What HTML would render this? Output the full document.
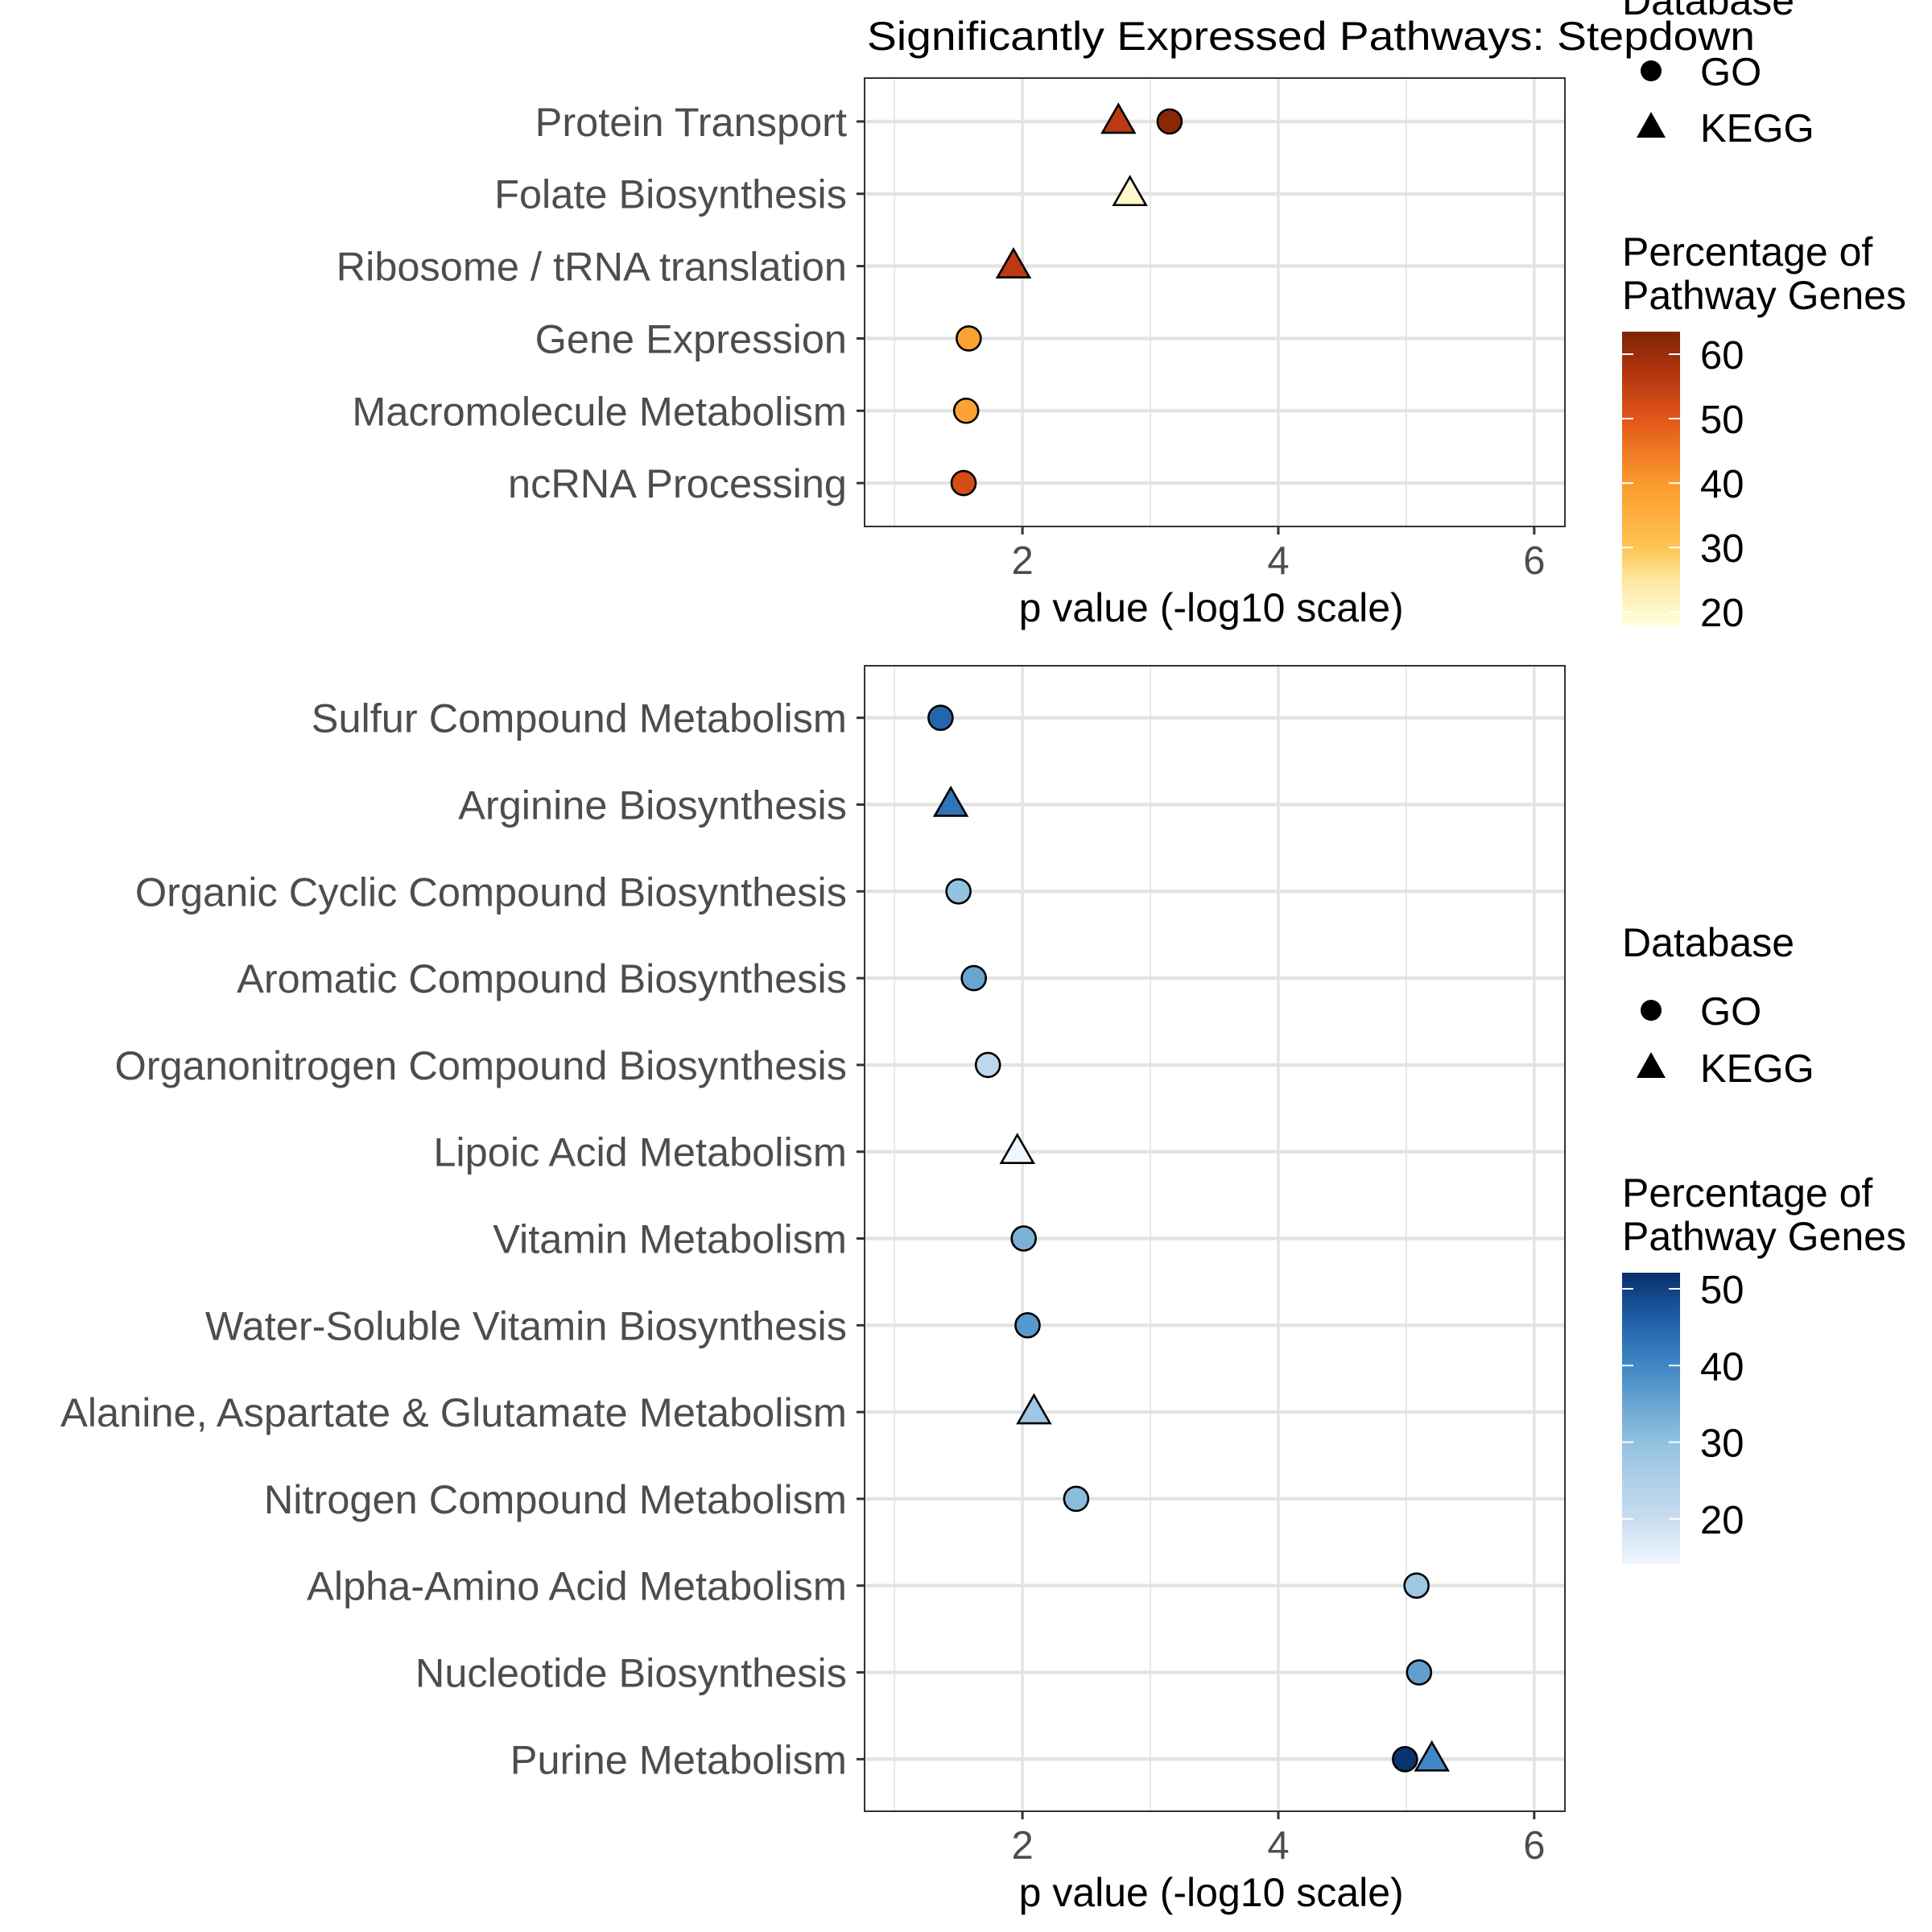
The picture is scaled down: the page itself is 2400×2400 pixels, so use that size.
<!DOCTYPE html>
<html><head><meta charset="utf-8"><style>
html,body{margin:0;padding:0;background:#fff;}
svg{display:block;font-family:"Liberation Sans",Arial,sans-serif;}
</style></head><body>
<svg id="chart" width="2400" height="2400" viewBox="0 0 2400 2400" xmlns="http://www.w3.org/2000/svg">
<text x="1077" y="62" font-size="50" fill="#000" textLength="1103" lengthAdjust="spacingAndGlyphs">Significantly Expressed Pathways: Stepdown</text>
</svg>
<script>
const topCats = ["Protein Transport","Folate Biosynthesis","Ribosome / tRNA translation","Gene Expression","Macromolecule Metabolism","ncRNA Processing"];
const topX = [2.75,3.15,2.84,1.93,1.58,1.56,1.54];
const topRow = [0,0,1,2,3,4,5];
const topDb = ["KEGG","GO","KEGG","KEGG","GO","GO","GO"];
const topPct = [56,62,20,56,38,38,52];

const botCats = ["Sulfur Compound Metabolism","Arginine Biosynthesis","Organic Cyclic Compound Biosynthesis","Aromatic Compound Biosynthesis","Organonitrogen Compound Biosynthesis","Lipoic Acid Metabolism","Vitamin Metabolism","Water-Soluble Vitamin Biosynthesis","Alanine, Aspartate & Glutamate Metabolism","Nitrogen Compound Metabolism","Alpha-Amino Acid Metabolism","Nucleotide Biosynthesis","Purine Metabolism"];
const botX = [1.36,1.44,1.50,1.62,1.73,1.96,2.01,2.04,2.09,2.42,5.08,5.10,4.99,5.20];
const botRow = [0,1,2,3,4,5,6,7,8,9,10,11,12,12];
const botDb = ["GO","KEGG","GO","GO","GO","KEGG","GO","GO","KEGG","GO","GO","GO","GO","KEGG"];
const botPct = [45,43,30,35,22,14,33,37,28,31,28,36,52,40];

const xTicks = [2,4,6];
const xMinor = [1,3,5];
const topLegendTicks = [20,30,40,50,60];
const botLegendTicks = [20,30,40,50];

const orangeStops = [[18,'#ffffdc'],[25,'#fee7a0'],[30,'#fdc452'],[40,'#fb9a2c'],[50,'#e1561a'],[57,'#b3350f'],[63,'#7f2704']];
const blueStops = [[14,'#f0f6fe'],[20,'#c9dcf0'],[30,'#92c2df'],[40,'#3f88c5'],[46,'#1f5fa9'],[52.5,'#08306b']];

const svg = document.getElementById('chart');
const NS = 'http://www.w3.org/2000/svg';
function mk(tag, attrs, parent){ const e=document.createElementNS(NS,tag); for(const k in attrs) e.setAttribute(k,attrs[k]); (parent||svg).appendChild(e); return e; }
function hex(h){return [parseInt(h.substr(1,2),16),parseInt(h.substr(3,2),16),parseInt(h.substr(5,2),16)];}
function colorAt(stops,v){
  if(v<=stops[0][0]) return stops[0][1];
  for(let i=1;i<stops.length;i++){ if(v<=stops[i][0]){ const t=(v-stops[i-1][0])/(stops[i][0]-stops[i-1][0]); const a=hex(stops[i-1][1]),b=hex(stops[i][1]); return 'rgb('+a.map((c,j)=>Math.round(c+(b[j]-c)*t)).join(',')+')'; } }
  return stops[stops.length-1][1];
}
const PL=1074, PR=1944, XMIN=0.766, XMAX=6.24;
function xs(v){ return PL+(v-XMIN)/(XMAX-XMIN)*(PR-PL); }

function panel(name, top, bottom, cats, xv, rows, db, pct, stops){
  const n=cats.length;
  const step=(bottom-top)/(n-1+1.2);
  const ys=i=>top+step*0.6+i*step;
  const g=mk('g',{});
  
  
  xMinor.forEach(v=>{ const l=mk('line',{x1:xs(v),x2:xs(v),y1:top,y2:bottom,stroke:'#e6e6e6','stroke-width':1.8},g);   });
  xTicks.forEach(v=>{ const l=mk('line',{x1:xs(v),x2:xs(v),y1:top,y2:bottom,stroke:'#e3e3e3','stroke-width':3.4},g);   });
  cats.forEach((c,i)=>{
    const y=ys(i);
    const l=mk('line',{x1:PL,x2:PR,y1:y,y2:y,stroke:'#e3e3e3','stroke-width':4.4},g);
     
    const tk=mk('line',{x1:PL-10,x2:PL,y1:y,y2:y,stroke:'#333','stroke-width':3},g);
     
    const t=mk('text',{x:1052,y:y+18,'font-size':50.5,fill:'#4d4d4d','text-anchor':'end'},g);
    t.textContent=c;
     
  });
  const b=mk('rect',{x:PL,y:top,width:PR-PL,height:bottom-top,fill:'none',stroke:'#333','stroke-width':2},g);
   
  xTicks.forEach(v=>{
    const tk=mk('line',{x1:xs(v),x2:xs(v),y1:bottom,y2:bottom+10,stroke:'#333','stroke-width':3},g);
     
    const t=mk('text',{x:xs(v),y:bottom+59,'font-size':49,fill:'#4d4d4d','text-anchor':'middle'},g);
    t.textContent=v;
     
  });
  const at=mk('text',{x:(PL+PR)/2-(PR-PL)*0.005,y:bottom+118,'font-size':50,fill:'#000','text-anchor':'middle'},g);
  at.textContent='p value (-log10 scale)';
   
  xv.forEach((v,i)=>{
    const cx=xs(v), cy=ys(rows[i]), col=colorAt(stops,pct[i]);
    let m;
    if(db[i]==='GO'){ m=mk('circle',{cx:cx,cy:cy,r:15,fill:col,stroke:'#000','stroke-width':2.6},g); }
    else { m=mk('polygon',{points:(cx-20)+','+(cy+14)+' '+(cx+20)+','+(cy+14)+' '+cx+','+(cy-21),fill:col,stroke:'#000','stroke-width':2.6,'stroke-linejoin':'miter'},g); }
    
    
  });
}
panel('top',97,654,topCats,topX,topRow,topDb,topPct,orangeStops);
panel('bottom',827,2250,botCats,botX,botRow,botDb,botPct,blueStops);

function legend(name, dbTitleY, goY, keggY, pctY1, pctY2, barTop, barBot, vTop, vBot, ticks, stops){
  const g=mk('g',{});
  
  
  const t1=mk('text',{x:2015,y:dbTitleY,'font-size':50,fill:'#000'},g); t1.textContent='Database';
   
  const c=mk('circle',{cx:2051,cy:goY,r:13,fill:'#000'},g);
   
  const tg=mk('text',{x:2112,y:goY+18,'font-size':49,fill:'#000'},g); tg.textContent='GO';
   
  const p=mk('polygon',{points:'2033,'+(keggY+13)+' 2069,'+(keggY+13)+' 2051,'+(keggY-19),fill:'#000'},g);
   
  const tk=mk('text',{x:2112,y:keggY+18,'font-size':49,fill:'#000'},g); tk.textContent='KEGG';
   
  const a=mk('text',{x:2015,y:pctY1+18,'font-size':50,fill:'#000'},g); a.textContent='Percentage of';
   
  const b=mk('text',{x:2015,y:pctY2+18,'font-size':50,fill:'#000'},g); b.textContent='Pathway Genes';
   
  const defs=mk('defs',{},g);
  const lg=mk('linearGradient',{id:name+'-grad',x1:0,y1:1,x2:0,y2:0},defs);
  stops.forEach(s=>{ let o=(s[0]-vBot)/(vTop-vBot); o=Math.max(0,Math.min(1,o)); mk('stop',{offset:o,'stop-color':s[1]},lg); });
  const r=mk('rect',{x:2015,y:barTop,width:72,height:barBot-barTop,fill:'url(#'+name+'-grad)'},g);
   
  const yv=v=>barBot-(v-vBot)/(vTop-vBot)*(barBot-barTop);
  ticks.forEach(v=>{
    const y=yv(v);
    mk('line',{x1:2015,x2:2029,y1:y,y2:y,stroke:'#fff','stroke-width':2},g);
    mk('line',{x1:2073,x2:2087,y1:y,y2:y,stroke:'#fff','stroke-width':2},g);
    const t=mk('text',{x:2112,y:y+18,'font-size':49,fill:'#000'},g); t.textContent=v;
     
  });
}
legend('top',18,88,158,312,366,412,777,63.5,17.9,topLegendTicks,orangeStops);
legend('bottom',1188,1255,1326,1481,1535,1581,1943,52.1,14.1,botLegendTicks,blueStops);
</script>
</body></html>
